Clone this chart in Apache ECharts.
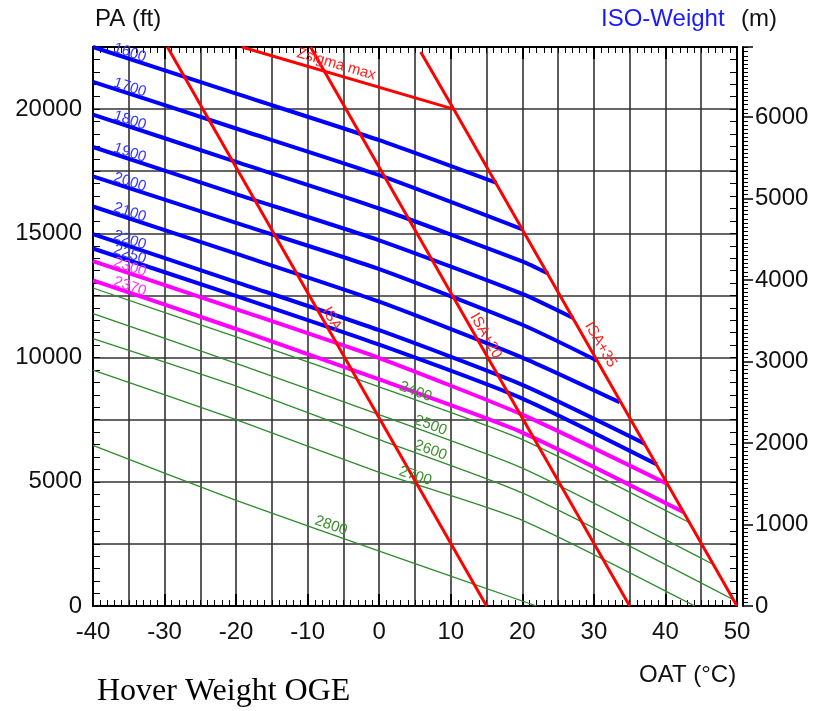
<!DOCTYPE html>
<html>
<head>
<meta charset="utf-8">
<script src="https://cdn.jsdelivr.net/npm/echarts@6/dist/echarts.min.js"></script>
<style>
  html, body { margin: 0; padding: 0; background: #fff; }
  #chart { width: 814px; height: 711px; }
</style>
</head>
<body>
<div id="chart"></div>
<script>
// tick labels
const OAT_LABELS = [-40, -30, -20, -10, 0, 10, 20, 30, 40, 50]
const PA_LABELS = [0, 5000, 10000, 15000, 20000]
const M_LABELS = [0, 1000, 2000, 3000, 4000, 5000, 6000]

// iso-weight curves, points are [OAT °C, PA ft]
const w1600 = [[-40, 22500], [-20, 20620], [0, 18750], [16.4, 17030]]
const w1700 = [[-40, 21100], [-20, 19220], [0, 17340], [20.1, 15150]]
const w1800 = [[-40, 19780], [-20, 17880], [0, 16000], [20, 13870], [23.6, 13380]]
const w1900 = [[-40, 18475], [-20, 16580], [0, 14720], [20, 12560], [27.1, 11590]]
const w2000 = [[-40, 17290], [-20, 15420], [0, 13560], [20, 11320], [30.4, 9880]]
const w2100 = [[-40, 16080], [-20, 14180], [0, 12250], [20, 10000], [33.6, 8200]]
const w2200 = [[-40, 14965], [-20, 13040], [0, 11100], [20, 8900], [37.1, 6534]]
const w2250 = [[-40, 14390], [-20, 12480], [0, 10520], [20, 8350], [38.8, 5700]]
const w2300 = [[-40, 13880], [-20, 11950], [0, 9980], [20, 7700], [40.2, 4920]]
const w2370 = [[-40, 13110], [-20, 11150], [0, 9120], [20, 6980], [42.5, 3780]]
const w2400 = [[-40, 12800], [-20, 10830], [0, 8820], [20, 6700], [43.2, 3380]]
const w2500 = [[-40, 11770], [-20, 9770], [0, 7700], [20, 5550], [46.5, 1700]]
const w2600 = [[-40, 10760], [-20, 8850], [0, 6700], [20, 4550], [49.7, 220]]
const w2700 = [[-40, 9490], [-20, 7500], [0, 5380], [20, 3450], [44.1, 0]]
const w2800 = [[-40, 6465], [-20, 4250], [0, 2210], [22, 0]]

// limit lines
const isaLine = [[-29.6, 22500], [15, 0]]
const isa20Line = [[-9.6, 22500], [35, 0]]
const isa35Line = [[5.8, 22300], [10.4, 20000], [50, 0]]
const zsigmaLine = [[-19.2, 22500], [10.4, 20000]]

const BLUE = '#0000ff'
const MAGENTA = '#ff00ff'
const GREEN = '#2e8b2e'
const RED = '#ff0000'
const FONT = '"Liberation Sans", Arial, sans-serif'

// name, points, colour, width, label OAT
const CURVES = [
  ['1600', w1600, BLUE, 4, -35.1],
  ['1700', w1700, BLUE, 4, -35.1],
  ['1800', w1800, BLUE, 4, -35.1],
  ['1900', w1900, BLUE, 4, -35.1],
  ['2000', w2000, BLUE, 4, -35.1],
  ['2100', w2100, BLUE, 4, -35.1],
  ['2200', w2200, BLUE, 4, -35.1],
  ['2250', w2250, BLUE, 4, -35.1],
  ['2300', w2300, MAGENTA, 4, -35.1],
  ['2370', w2370, MAGENTA, 4, -35.1],
  ['2400', w2400, GREEN, 1.3, 4.7],
  ['2500', w2500, GREEN, 1.3, 6.8],
  ['2600', w2600, GREEN, 1.3, 6.8],
  ['2700', w2700, GREEN, 1.3, 4.7],
  ['2800', w2800, GREEN, 1.3, -7.1],
]

const LIMITS = [
  ['ISA', isaLine, -7.6, 8],
  ['ISA+20', isa20Line, 13.8, 9],
  ['ISA+35', isa35Line, 29.6, 11],
  ['Zsigma max', zsigmaLine, -6.4, 10],
]

const chart = echarts.init(document.getElementById('chart'))

const labelFmt = (list) => (v) => (list.includes(v) ? String(v) : '')

function xAxisBase(position, interval, extra) {
  return Object.assign({
    type: 'value',
    position,
    min: -40,
    max: 50,
    interval,
    axisLine: { show: true, onZero: false, lineStyle: { color: '#000', width: 2 } },
    axisTick: { show: true, inside: true, length: 6, lineStyle: { color: '#000', width: 1 } },
    minorTick: { show: false },
    axisLabel: { show: false },
    splitLine: { show: false },
  }, extra)
}

const bigTick = { show: true, inside: true, length: 12, lineStyle: { color: '#000', width: 2 } }
const oatMinor = { show: true, splitNumber: 5, length: 6, lineStyle: { color: '#000', width: 1 } }

const option = {
  backgroundColor: '#fff',
  animation: false,
  grid: {
    left: 93,
    right: 77,
    top: 47,
    bottom: 105,
    show: true,
    borderColor: '#000',
    borderWidth: 2,
  },
  xAxis: [
    xAxisBase('bottom', 5, {
      minorTick: oatMinor,
      splitLine: { show: true, lineStyle: { color: '#333', width: 1.6 } },
      axisLabel: { show: true, margin: 14, color: '#111', fontSize: 24, fontFamily: FONT, formatter: labelFmt(OAT_LABELS) },
    }),
    xAxisBase('bottom', 10, { axisLine: { show: false, onZero: false }, axisTick: bigTick }),
    xAxisBase('top', 5, { minorTick: oatMinor }),
    xAxisBase('top', 10, { axisLine: { show: false, onZero: false }, axisTick: bigTick }),
  ],
  yAxis: [
    {
      type: 'value',
      position: 'left',
      min: 0,
      max: 22500,
      interval: 2500,
      axisLine: { show: true, onZero: false, lineStyle: { color: '#000', width: 2 } },
      axisTick: { show: true, inside: true, length: 7, lineStyle: { color: '#000' } },
      minorTick: { show: true, splitNumber: 5, length: 7, lineStyle: { color: '#000', width: 1 } },
      splitLine: { show: true, lineStyle: { color: '#333', width: 1.6 } },
      axisLabel: { margin: 11, color: '#111', fontSize: 24, fontFamily: FONT, formatter: labelFmt(PA_LABELS) },
    },
    {
      type: 'value',
      position: 'right',
      min: 0,
      max: 22500,
      interval: 2500,
      axisLine: { show: true, onZero: false, lineStyle: { color: '#000', width: 2 } },
      axisTick: { show: true, inside: true, length: 7, lineStyle: { color: '#000' } },
      minorTick: { show: true, splitNumber: 5, length: 7, lineStyle: { color: '#000', width: 1 } },
      splitLine: { show: false },
      axisLabel: { show: false },
    },
    {
      type: 'value',
      position: 'right',
      offset: 6,
      min: 0,
      max: 6858,
      interval: 1000,
      axisLine: { show: true, onZero: false, lineStyle: { color: '#000', width: 2 } },
      axisTick: { show: true, inside: false, length: 10, lineStyle: { color: '#000', width: 1.5 } },
      minorTick: { show: true, splitNumber: 20, length: 5, lineStyle: { color: '#000', width: 1 } },
      splitLine: { show: false },
      axisLabel: { margin: 12, color: '#111', fontSize: 24, fontFamily: FONT, formatter: labelFmt(M_LABELS) },
    },
  ],
  series: [
    ...CURVES.map(([name, data, color, width]) => ({
      name,
      type: 'line',
      data,
      symbol: 'none',
      silent: true,
      smooth: 0.2,
      z: color === GREEN ? 3 : 4,
      lineStyle: { color, width },
    })),
    ...LIMITS.map(([name, data]) => ({
      name,
      type: 'line',
      data,
      symbol: 'none',
      silent: true,
      z: 5,
      lineStyle: { color: RED, width: 3 },
    })),
  ],
}

chart.setOption(option)

function paAt(line, t) {
  const pts = line.slice().sort((a, b) => a[0] - b[0])
  for (let i = 0; i < pts.length - 1; i++) {
    const [t0, p0] = pts[i]
    const [t1, p1] = pts[i + 1]
    if (t >= t0 && t <= t1) {
      return p0 + (p1 - p0) * (t - t0) / (t1 - t0)
    }
  }
  return pts[pts.length - 1][1]
}

function lineText(text, line, t, offset, color, size) {
  const toPx = (v) => chart.convertToPixel({ xAxisIndex: 0, yAxisIndex: 0 }, v)
  const p = toPx([t, paAt(line, t)])
  const q = toPx([t + 1, paAt(line, t + 1)])
  const a = Math.atan2(q[1] - p[1], q[0] - p[0])
  return {
    type: 'text',
    z: 100,
    x: p[0] + Math.sin(a) * offset,
    y: p[1] - Math.cos(a) * offset,
    rotation: -a,
    style: {
      text,
      fill: color,
      font: `${size}px ${FONT}`,
      align: 'center',
      verticalAlign: 'middle',
      textAlign: 'center',
      textVerticalAlign: 'middle',
    },
  }
}

function plainText(text, x, y, color, font) {
  return {
    type: 'text',
    z: 100,
    x,
    y,
    style: { text, fill: color, font, align: 'left', verticalAlign: 'middle', textAlign: 'left', textVerticalAlign: 'middle' },
  }
}

const labelColors = { [BLUE]: '#3535ff', [MAGENTA]: '#ff30ff', [GREEN]: '#3a8f2a' }

const graphics = [
  ...CURVES.map(([name, data, color, , t]) => lineText(name, data, t, color === GREEN ? 8 : 6, labelColors[color], 15)),
  ...LIMITS.map(([name, data, t, off]) => lineText(name, data, t, off, '#ff2020', 15)),
  plainText('PA (ft)', 95, 19, '#111', `24px ${FONT}`),
  plainText('ISO-Weight', 601, 19, '#1a1aff', `24px ${FONT}`),
  plainText('(m)', 741, 19, '#111', `24px ${FONT}`),
  plainText('OAT (°C)', 639, 675, '#111', `24px ${FONT}`),
  plainText('Hover Weight OGE', 97, 692, '#000', `32px "Liberation Serif", "Times New Roman", serif`),
]

chart.setOption({ graphic: graphics })
</script>
</body>
</html>
